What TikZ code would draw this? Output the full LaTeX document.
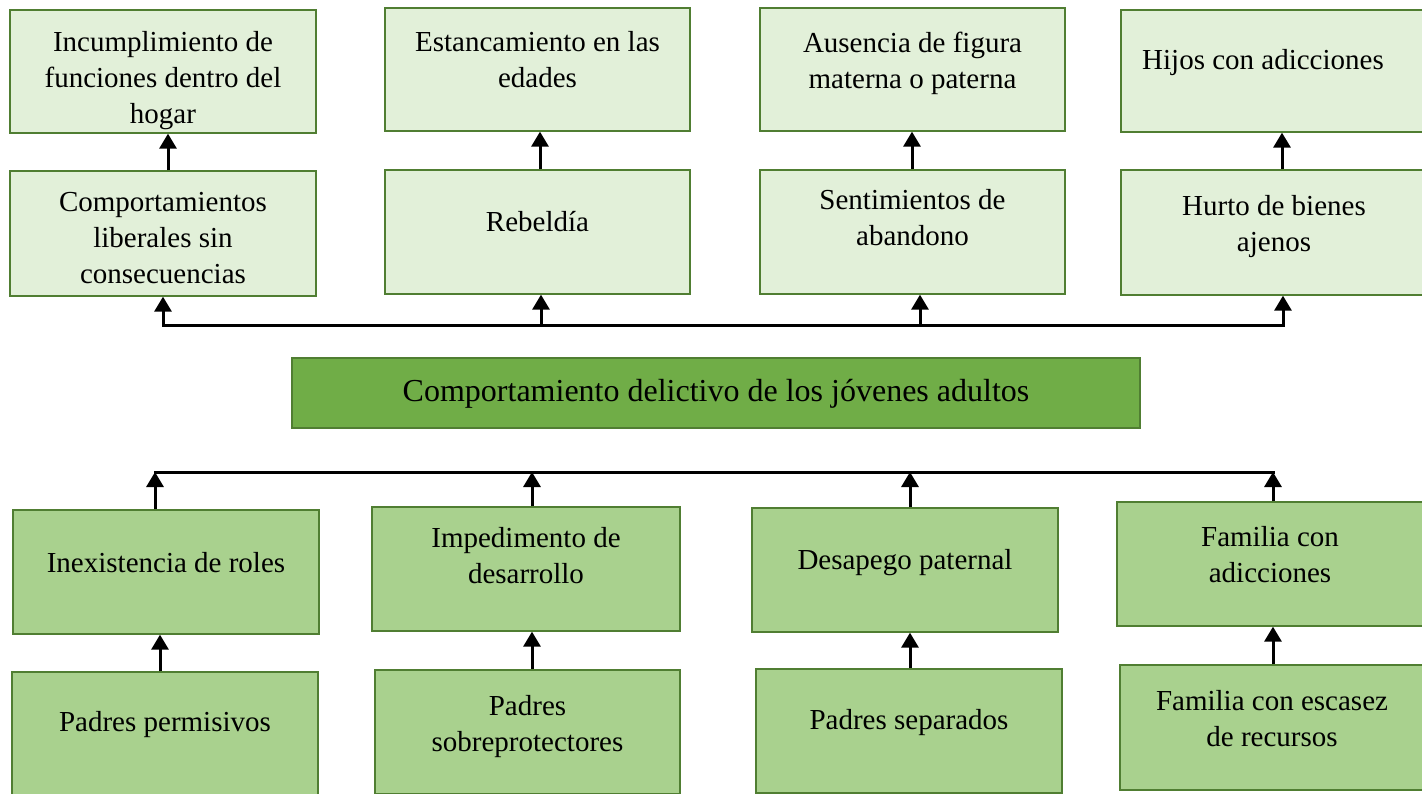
\documentclass[tikz,border=0pt]{standalone}
\usepackage{fontspec}
\setmainfont{Liberation Serif}
\usetikzlibrary{arrows.meta}
\definecolor{lightfill}{HTML}{E2F0D9}
\definecolor{midfill}{HTML}{A9D18E}
\definecolor{darkfill}{HTML}{70AD47}
\definecolor{boxline}{HTML}{507E32}
\tikzset{
  box/.style={draw=boxline, line width=1.3pt, rectangle, inner sep=0pt},
  lbox/.style={box, fill=lightfill},
  mbox/.style={box, fill=midfill},
  cbox/.style={box, fill=darkfill},
  txt/.style={align=center, inner sep=0pt, font=\fontsize{29}{36}\selectfont},
  ctxt/.style={align=center, inner sep=0pt, font=\fontsize{32}{38}\selectfont},
  conn/.style={line width=3pt, line cap=rect},
  arr/.style={line width=3pt, -{Triangle[width=17pt,length=15pt]}},
}
\begin{document}
\begin{tikzpicture}[x=1pt,y=-1pt]
\useasboundingbox (0,0) rectangle (1422,794);
% top row (effects)
\node[lbox, minimum width=306pt, minimum height=123pt] (b1) at (163,71.5) {};
\node[lbox, minimum width=305pt, minimum height=123pt] (b2) at (537.5,69.5) {};
\node[lbox, minimum width=305pt, minimum height=123pt] (b3) at (912.5,69.5) {};
\node[lbox, minimum width=304pt, minimum height=122pt] (b4) at (1273,71) {};
\node[txt] (b1t) at (163,81) {Incumplimiento de\\funciones dentro del\\hogar};
\node[txt] (b2t) at (537.5,59.5) {Estancamiento en las\\edades};
\node[txt] (b3t) at (912.5,63.5) {Ausencia de figura\\materna o paterna};
\node[txt] (b4t) at (1263,63) {Hijos con adicciones};
% second row
\node[lbox, minimum width=306pt, minimum height=125pt] (c1) at (163,233.5) {};
\node[lbox, minimum width=305pt, minimum height=124pt] (c2) at (537.5,232) {};
\node[lbox, minimum width=305pt, minimum height=124pt] (c3) at (912.5,232) {};
\node[lbox, minimum width=304pt, minimum height=125pt] (c4) at (1273,232.5) {};
\node[txt] (c1t) at (163,238) {Comportamientos\\liberales sin\\consecuencias};
\node[txt] (c2t) at (537.5,222) {Rebeldía};
\node[txt] (c3t) at (912.5,218) {Sentimientos de\\abandono};
\node[txt] (c4t) at (1274,226.5) {Hurto de bienes\\ajenos};
% central problem
\node[cbox, minimum width=848pt, minimum height=70pt] (m) at (716,393) {};
\node[ctxt] (mt) at (716,394) {Comportamiento delictivo de los jóvenes adultos};
% causes
\node[mbox, minimum width=306pt, minimum height=124pt] (d1) at (166,572) {};
\node[mbox, minimum width=308pt, minimum height=124pt] (d2) at (526,569) {};
\node[mbox, minimum width=306pt, minimum height=124pt] (d3) at (905,570) {};
\node[mbox, minimum width=308pt, minimum height=124pt] (d4) at (1271,564) {};
\node[txt] (d1t) at (166,563) {Inexistencia de roles};
\node[txt] (d2t) at (526,555.5) {Impedimento de\\desarrollo};
\node[txt] (d3t) at (905,563) {Desapego paternal};
\node[txt] (d4t) at (1270,554.5) {Familia con\\adicciones};
\node[mbox, minimum width=306pt, minimum height=124pt] (e1) at (165,734) {};
\node[mbox, minimum width=305pt, minimum height=124pt] (e2) at (527.5,732) {};
\node[mbox, minimum width=306pt, minimum height=124pt] (e3) at (909,731) {};
\node[mbox, minimum width=305pt, minimum height=125pt] (e4) at (1272.5,727.5) {};
\node[txt] (e1t) at (165,725) {Padres permisivos};
\node[txt] (e2t) at (527.5,727) {Padres\\sobreprotectores};
\node[txt] (e3t) at (909,723) {Padres separados};
\node[txt] (e4t) at (1272,719) {Familia con escasez\\de recursos};
% arrows between top rows
\coordinate (xa1) at (168,0);
\coordinate (xa2) at (540,0);
\coordinate (xa3) at (912,0);
\coordinate (xa4) at (1282,0);
\draw[arr] (xa1 |- c1.north) -- (xa1 |- b1.south);
\draw[arr] (xa2 |- c2.north) -- (xa2 |- b2.south);
\draw[arr] (xa3 |- c3.north) -- (xa3 |- b3.south);
\draw[arr] (xa4 |- c4.north) -- (xa4 |- b4.south);
% top distribution line
\coordinate (t1) at (163,326);
\coordinate (t2) at (541,326);
\coordinate (t3) at (920,326);
\coordinate (t4) at (1283,326);
\draw[conn] (t1) -- (t4);
\draw[arr] (t1) -- (t1 |- c1.south);
\draw[arr] (t2) -- (t2 |- c2.south);
\draw[arr] (t3) -- (t3 |- c3.south);
\draw[arr] (t4) -- (t4 |- c4.south);
% bottom collecting line
\coordinate (u1) at (155,472);
\coordinate (u2) at (532,472);
\coordinate (u3) at (910,472);
\coordinate (u4) at (1273,472);
\draw[conn] (u1) -- (u4);
\draw[arr] (u1 |- d1.north) -- (u1);
\draw[arr] (u2 |- d2.north) -- (u2);
\draw[arr] (u3 |- d3.north) -- (u3);
\draw[arr] (u4 |- d4.north) -- (u4);
% arrows between bottom rows
\coordinate (xb1) at (160,0);
\coordinate (xb2) at (532,0);
\coordinate (xb3) at (910,0);
\coordinate (xb4) at (1273,0);
\draw[arr] (xb1 |- e1.north) -- (xb1 |- d1.south);
\draw[arr] (xb2 |- e2.north) -- (xb2 |- d2.south);
\draw[arr] (xb3 |- e3.north) -- (xb3 |- d3.south);
\draw[arr] (xb4 |- e4.north) -- (xb4 |- d4.south);
\end{tikzpicture}
\end{document}
